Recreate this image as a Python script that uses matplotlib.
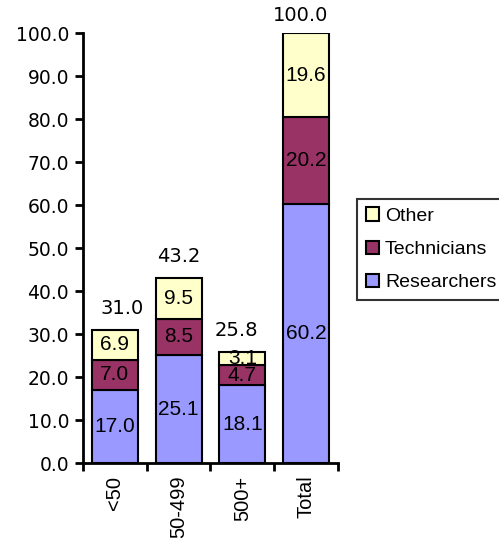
import numpy as np
import matplotlib.pyplot as plt

# data
categories = ['<50', '50-499', '500+', 'Total']
researchers = [17.0, 25.1, 18.1, 60.2]
technicians = [7.0, 8.5, 4.7, 20.2]
other = [6.9, 9.5, 3.1, 19.6]
totals = [31.0, 43.2, 25.8, 100.0]

c_res = '#9999FF'
c_tech = '#993366'
c_oth = '#FFFFCC'

fig = plt.figure(figsize=(4.99, 5.43), dpi=100)
ax = fig.add_axes([0.1663, 0.1473, 0.511, 0.7919])

x = np.arange(len(categories))
w = 0.72
b1 = ax.bar(x, researchers, w, color=c_res, edgecolor='black', linewidth=1.5, label='Researchers', zorder=2)
b2 = ax.bar(x, technicians, w, bottom=researchers, color=c_tech, edgecolor='black', linewidth=1.5, label='Technicians', zorder=2)
bottom2 = np.array(researchers) + np.array(technicians)
b3 = ax.bar(x, other, w, bottom=bottom2, color=c_oth, edgecolor='black', linewidth=1.5, label='Other', zorder=2)

# segment labels, clipped to their own segment like the original
for bars, vals, bots in [(b1, researchers, np.zeros(4)), (b2, technicians, researchers), (b3, other, bottom2)]:
    for i, v in enumerate(vals):
        t = ax.text(x[i], bots[i] + v / 2, '%.1f' % v, ha='center', va='center',
                    family='Liberation Sans', fontsize=15, zorder=3)
        t.set_clip_path(bars[i])

# total labels (slightly uneven placement, as in the original)
dx = [0.12, 0.0, -0.1, -0.08]
dy = [2.7, 2.7, 2.7, 1.8]
for i, t in enumerate(totals):
    ax.text(x[i] + dx[i], t + dy[i], '%.1f' % t, ha='center', va='bottom',
            family='DejaVu Sans', fontsize=14, clip_on=False)

ax.set_xlim(-0.5, 3.5)
ax.set_ylim(0, 100)
ax.set_yticks(np.arange(0, 101, 10))
ax.set_yticklabels(['%.1f' % v for v in np.arange(0, 101, 10)], family='DejaVu Sans', fontsize=13.5)
ax.set_xticks(x)
ax.set_xticklabels(categories, rotation=90, family='Liberation Sans', fontsize=14.5)
ax.set_xticks(np.arange(-0.5, 4.0, 1.0), minor=True)
ax.tick_params(axis='x', which='major', length=0, pad=9)
ax.tick_params(axis='x', which='minor', length=6, width=2, direction='out')
ax.tick_params(axis='y', length=6, width=2, direction='out', pad=4)
for s in ['top', 'right']:
    ax.spines[s].set_visible(False)
for s in ['left', 'bottom']:
    ax.spines[s].set_linewidth(2)

leg = fig.legend(handles=[b3, b2, b1], labels=['Other', 'Technicians', 'Researchers'],
                 loc='upper left', bbox_to_anchor=(0.715, 0.634), frameon=True, fancybox=False,
                 edgecolor='black', handlelength=0.7, handleheight=0.7, handletextpad=0.3,
                 borderpad=0.45, borderaxespad=0, labelspacing=0.8, prop={'family': 'Liberation Sans', 'size': 14})
leg.get_frame().set_linewidth(1.5)

fig.savefig('out.png', dpi=100)
